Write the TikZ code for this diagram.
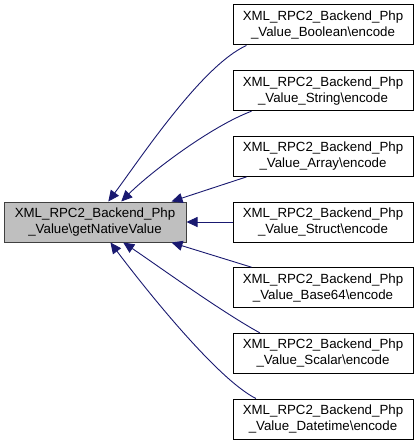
\documentclass[tikz,border=0pt]{standalone}
\usepackage{fontspec}
\setmainfont{Liberation Sans}
\usetikzlibrary{arrows.meta}
\definecolor{edgeblue}{HTML}{191970}
\definecolor{focusgray}{HTML}{BFBFBF}
\definecolor{focusline}{HTML}{404040}
\tikzset{
  box/.style={draw=black, fill=white, line width=1pt, minimum width=180pt, minimum height=40pt,
    inner sep=0pt, align=center, font=\fontsize{13.3}{16}\selectfont},
  focusbox/.style={box, draw=focusline, fill=focusgray, minimum width=182pt},
  edge/.style={draw=edgeblue, line width=0.9pt, -{Triangle[length=11pt,width=10pt]}}
}
\begin{document}
\begin{tikzpicture}[x=1pt,y=-1pt]
\useasboundingbox (0,0) rectangle (419,444);
\node[focusbox] (L) at (95,222) {XML\_RPC2\_Backend\_Php\\\_Value\textbackslash getNativeValue};
\node[box] (Bo) at (323,25) {XML\_RPC2\_Backend\_Php\\\_Value\_Boolean\textbackslash encode};
\node[box] (St) at (323,90.7) {XML\_RPC2\_Backend\_Php\\\_Value\_String\textbackslash encode};
\node[box] (Ar) at (323,156.4) {XML\_RPC2\_Backend\_Php\\\_Value\_Array\textbackslash encode};
\node[box] (Sc) at (323,222) {XML\_RPC2\_Backend\_Php\\\_Value\_Struct\textbackslash encode};
\node[box] (B6) at (323,287.7) {XML\_RPC2\_Backend\_Php\\\_Value\_Base64\textbackslash encode};
\node[box] (Sa) at (323,353.4) {XML\_RPC2\_Backend\_Php\\\_Value\_Scalar\textbackslash encode};
\node[box] (Dt) at (323,419) {XML\_RPC2\_Backend\_Php\\\_Value\_Datetime\textbackslash encode};
\draw[edge] (Bo.195.9) .. controls +(-45,20) and +(30,-40) .. (L.57);
\draw[edge] (St.196.9) .. controls +(-40,15) and +(30,-30) .. (L.38.7);
\draw[edge] (Ar.195.9) -- (L.15.3);
\draw[edge] (Sc.west) -- (L.east);
\draw[edge] (B6.164.1) -- (L.-15.3);
\draw[edge] (Sa.162.4) .. controls +(-40,-22) and +(30,20) .. (L.-36.5);
\draw[edge] (Dt.163.1) .. controls +(-40,-20) and +(30,40) .. (L.-53);
\end{tikzpicture}
\end{document}
